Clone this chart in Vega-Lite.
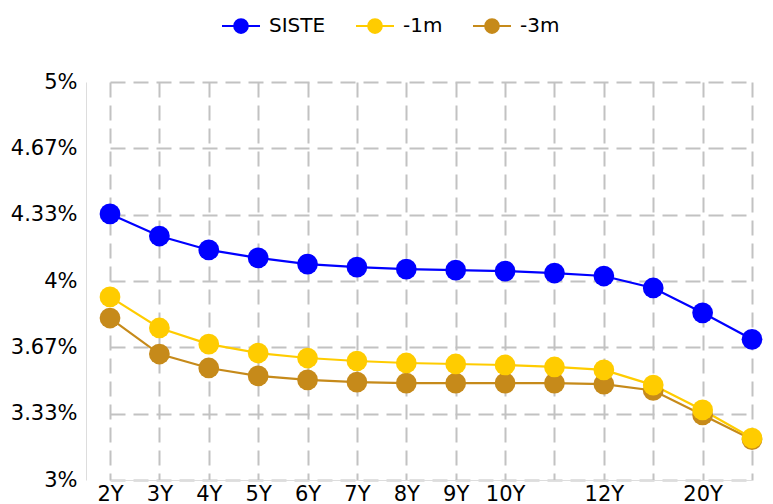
{
  "$schema": "https://vega.github.io/schema/vega-lite/v6.json",
  "autosize": "none",
  "width": 687,
  "height": 398,
  "padding": {"left": 86, "top": 82, "right": 0, "bottom": 24},
  "config": {
    "font": "DejaVu Sans",
    "view": {"stroke": null},
    "axis": {
      "labelFontSize": 21,
      "labelColor": "#000000",
      "gridDash": [15, 8],
      "gridColor": "#c2c2c2",
      "gridWidth": 2,
      "domainColor": "#dddddd",
      "domainWidth": 1,
      "ticks": false,
      "title": null
    }
  },
  "data": {
    "values": [
      {"term": "2Y", "series": "-3m", "value": 3.814},
      {"term": "3Y", "series": "-3m", "value": 3.633},
      {"term": "4Y", "series": "-3m", "value": 3.563},
      {"term": "5Y", "series": "-3m", "value": 3.523},
      {"term": "6Y", "series": "-3m", "value": 3.503},
      {"term": "7Y", "series": "-3m", "value": 3.492},
      {"term": "8Y", "series": "-3m", "value": 3.487},
      {"term": "9Y", "series": "-3m", "value": 3.487},
      {"term": "10Y", "series": "-3m", "value": 3.487},
      {"term": "11Y", "series": "-3m", "value": 3.487},
      {"term": "12Y", "series": "-3m", "value": 3.482},
      {"term": "15Y", "series": "-3m", "value": 3.450},
      {"term": "20Y", "series": "-3m", "value": 3.327},
      {"term": "30Y", "series": "-3m", "value": 3.203},
      {"term": "2Y", "series": "-1m", "value": 3.920},
      {"term": "3Y", "series": "-1m", "value": 3.764},
      {"term": "4Y", "series": "-1m", "value": 3.683},
      {"term": "5Y", "series": "-1m", "value": 3.638},
      {"term": "6Y", "series": "-1m", "value": 3.613},
      {"term": "7Y", "series": "-1m", "value": 3.598},
      {"term": "8Y", "series": "-1m", "value": 3.588},
      {"term": "9Y", "series": "-1m", "value": 3.583},
      {"term": "10Y", "series": "-1m", "value": 3.578},
      {"term": "11Y", "series": "-1m", "value": 3.568},
      {"term": "12Y", "series": "-1m", "value": 3.553},
      {"term": "15Y", "series": "-1m", "value": 3.477},
      {"term": "20Y", "series": "-1m", "value": 3.352},
      {"term": "30Y", "series": "-1m", "value": 3.211},
      {"term": "2Y", "series": "SISTE", "value": 4.337},
      {"term": "3Y", "series": "SISTE", "value": 4.226},
      {"term": "4Y", "series": "SISTE", "value": 4.156},
      {"term": "5Y", "series": "SISTE", "value": 4.116},
      {"term": "6Y", "series": "SISTE", "value": 4.085},
      {"term": "7Y", "series": "SISTE", "value": 4.070},
      {"term": "8Y", "series": "SISTE", "value": 4.060},
      {"term": "9Y", "series": "SISTE", "value": 4.055},
      {"term": "10Y", "series": "SISTE", "value": 4.050},
      {"term": "11Y", "series": "SISTE", "value": 4.040},
      {"term": "12Y", "series": "SISTE", "value": 4.025},
      {"term": "15Y", "series": "SISTE", "value": 3.965},
      {"term": "20Y", "series": "SISTE", "value": 3.840},
      {"term": "30Y", "series": "SISTE", "value": 3.707}
    ]
  },
  "encoding": {
    "x": {
      "field": "term",
      "type": "ordinal",
      "sort": ["2Y", "3Y", "4Y", "5Y", "6Y", "7Y", "8Y", "9Y", "10Y", "11Y", "12Y", "15Y", "20Y", "30Y"],
      "scale": {"type": "point", "range": [24, 666], "padding": 0},
      "axis": {
        "labelAngle": 0,
        "grid": true,
        "labelPadding": 3,
        "labelExpr": "indexof(['11Y','15Y','30Y'], datum.label) >= 0 ? '' : datum.label"
      }
    },
    "y": {
      "field": "value",
      "type": "quantitative",
      "scale": {"domain": [3, 5], "nice": false, "zero": false},
      "axis": {
        "values": [3, 3.3333333, 3.6666667, 4, 4.3333333, 4.6666667, 5],
        "labelExpr": "format(datum.value, '.3~') + '%'",
        "labelPadding": 9,
        "grid": true
      }
    },
    "color": {
      "field": "series",
      "type": "nominal",
      "scale": {"domain": ["SISTE", "-1m", "-3m"], "range": ["#0000ff", "#ffcc00", "#c68a1a"]},
      "legend": {
        "title": null,
        "orient": "none",
        "direction": "horizontal",
        "legendX": 135,
        "legendY": -76,
        "labelFontSize": 20,
        "labelColor": "#000000",
        "symbolType": "M-1,0L1,0M-0.36,0A0.36,0.36,0,1,0,0.36,0A0.36,0.36,0,1,0,-0.36,0Z",
        "symbolSize": 1444,
        "symbolStrokeWidth": 2,
        "labelOffset": 8,
        "columnPadding": 26,
        "encode": {
          "symbols": {
            "update": {
              "stroke": {"scale": "color", "field": "value"},
              "fill": {"scale": "color", "field": "value"},
              "opacity": {"value": 1}
            }
          }
        }
      }
    }
  },
  "layer": [
    {
      "mark": {"type": "line", "strokeWidth": 2.2}
    },
    {
      "mark": {"type": "point", "filled": true, "size": 430, "opacity": 1}
    }
  ]
}
